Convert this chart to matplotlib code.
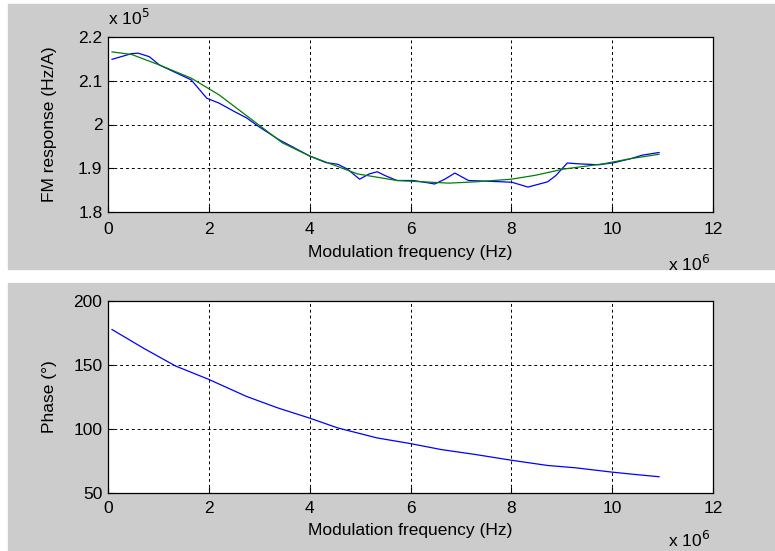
import numpy as np
import matplotlib.pyplot as plt
from matplotlib.patches import Rectangle

# measured FM response (x 1e6 Hz, x 1e5 Hz/A)
f_meas = [0.08, 0.47, 0.6, 0.82, 1.02, 1.65, 1.96, 2.2, 2.5, 2.75, 2.98, 3.38, 4.0,
          4.32, 4.56, 4.75, 4.99, 5.18, 5.34, 5.5, 5.73, 6.05, 6.28, 6.48, 6.68,
          6.88, 7.15, 7.82, 8.01, 8.33, 8.72, 8.88, 9.11, 9.35, 9.74, 10.05,
          10.37, 10.6, 10.93]
fm_meas = [2.149, 2.162, 2.163, 2.155, 2.136, 2.102, 2.060, 2.049, 2.030, 2.015,
           1.996, 1.966, 1.928, 1.913, 1.909, 1.898, 1.875, 1.887, 1.892, 1.883,
           1.872, 1.872, 1.868, 1.864, 1.875, 1.889, 1.872, 1.869, 1.868, 1.857,
           1.869, 1.883, 1.912, 1.910, 1.908, 1.913, 1.922, 1.930, 1.936]

# fitted curve
f_fit = [0.08, 0.47, 1.02, 1.65, 2.2, 2.98, 3.46, 4.0, 4.95, 5.73, 6.76, 7.3,
         8.0, 8.48, 9.03, 9.82, 10.37, 10.93]
fm_fit = [2.166, 2.160, 2.136, 2.106, 2.068, 2.000, 1.958, 1.928, 1.887, 1.872,
          1.866, 1.869, 1.875, 1.884, 1.898, 1.910, 1.922, 1.932]

# phase (degrees)
f_ph = [0.08, 0.71, 1.34, 1.99, 2.75, 3.38, 4.0, 4.56, 5.34, 6.0, 6.6, 7.3,
        8.0, 8.72, 9.27, 10.0, 10.45, 10.93]
phase = [177.7, 163.0, 149.2, 138.9, 125.4, 116.3, 108.5, 100.8, 93.0, 88.6,
         84.0, 80.0, 75.6, 71.5, 69.7, 66.3, 64.5, 62.7]

plt.rcParams['font.family'] = ['Liberation Sans', 'DejaVu Sans']
plt.rcParams['font.size'] = 12.5

W, H = 775, 551
fig = plt.figure(figsize=(W / 100, H / 100), dpi=100, facecolor='white')

# grey panels behind each subplot
fig.patches.append(Rectangle((8 / W, 1 - 269 / H), 1 - 8 / W, 265 / H,
                             transform=fig.transFigure, color='#cccccc', zorder=-10))
fig.patches.append(Rectangle((8 / W, 0), 1 - 8 / W, 268 / H,
                             transform=fig.transFigure, color='#cccccc', zorder=-10))

ax1 = fig.add_axes([108 / W, 1 - 212 / H, 605 / W, 175 / H])
ax2 = fig.add_axes([108 / W, 1 - 493 / H, 605 / W, 192 / H])

ax1.plot(f_meas, fm_meas, color='#0000ff', lw=0.9)
ax1.plot(f_fit, fm_fit, color='#008000', lw=0.9)
ax1.set_ylim(1.8, 2.2)
ax1.set_yticks([1.8, 1.9, 2.0, 2.1, 2.2])
ax1.set_yticklabels(['1.8', '1.9', '2', '2.1', '2.2'])
ax1.set_ylabel('FM response (Hz/A)')

ax2.plot(f_ph, phase, color='#0000ff', lw=0.9)
ax2.set_ylim(50, 200)
ax2.set_yticks([50, 100, 150, 200])
ax2.set_ylabel('Phase (°)')

for ax in (ax1, ax2):
    ax.set_xlim(0, 12)
    ax.set_xticks(range(0, 13, 2))
    ax.yaxis.set_label_coords(-0.085, 0.5)
    ax.grid(True, color='black', linestyle=(0, (3, 3)), lw=0.7)
    ax.tick_params(direction='in', length=4, colors='black')
    ax.tick_params(axis='y', pad=4)
    for s in ax.spines.values():
        s.set_linewidth(0.9)

ax1.tick_params(axis='x', pad=7)
ax1.set_xlabel('Modulation frequency (Hz)', labelpad=6)
ax2.tick_params(axis='x', pad=6)
ax2.set_xlabel('Modulation frequency (Hz)', labelpad=5)

fig.text(108 / W, 1 - 18 / H, r'x 10$^{5}$', ha='left', va='center')
fig.text(668 / W, 1 - 264 / H, r'x 10$^{6}$', ha='left', va='center')
fig.text(668 / W, 1 - 540 / H, r'x 10$^{6}$', ha='left', va='center')

fig.savefig('out.png', dpi=100, facecolor='white')
